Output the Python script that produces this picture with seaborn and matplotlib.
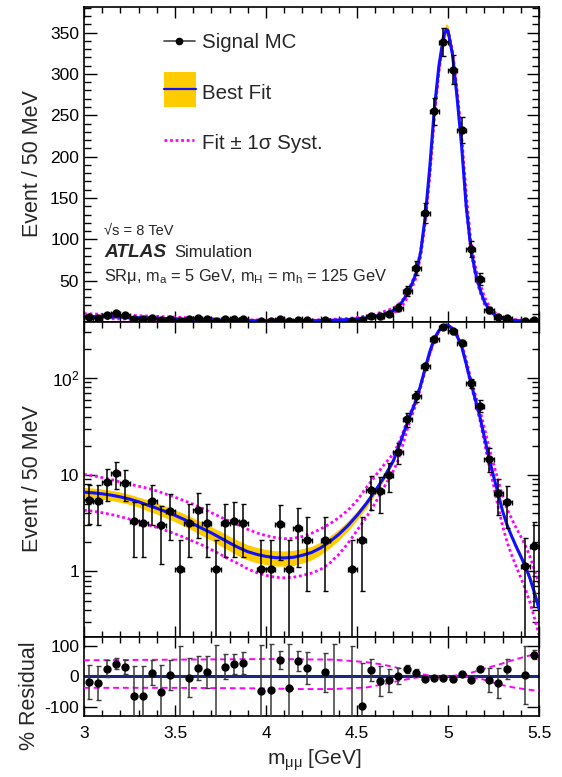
import numpy as np
import pandas as pd
import matplotlib
matplotlib.use('Agg')
import matplotlib.pyplot as plt
import matplotlib.ticker as mticker
from matplotlib.patches import Rectangle
import seaborn as sns

sns.set_theme(style="ticks")
plt.rcParams['font.family'] = ['Liberation Sans', 'DejaVu Sans']
plt.rcParams['mathtext.fontset'] = 'custom'
plt.rcParams['mathtext.rm'] = 'Liberation Sans'
plt.rcParams['mathtext.it'] = 'Liberation Sans:italic'
plt.rcParams['axes.unicode_minus'] = False

# Signal MC histogram, 50 MeV bins from 3 to 5.5 GeV
bin_centers = [3.025 + 0.05 * i for i in range(50)]
counts = [5.5, 5.4, 8.4, 10.4, 8.3, 3.3, 3.2, 5.4, 3.0, 4.2,
          1.07, 3.2, 4.3, 3.2, 1.07, 3.2, 3.3, 3.2, np.nan, 1.07,
          1.05, 3.1, 1.05, 2.8, 2.13, np.nan, 2.13, np.nan, np.nan, 1.05,
          2.13, 7.0, 6.75, 10.0, 17.2, 37.6, 65, 132, 255, 339,
          305, 232, 88, 52, 14.7, 6.4, 5.2, np.nan, 1.13, 1.83]
count_err = [2.4, 2.4, 3.0, 3.3, 3.0, 1.9, 1.8, 2.4, 1.8, 2.1,
             1.05, 1.8, 2.1, 1.8, 1.05, 1.8, 1.9, 1.8, np.nan, 1.05,
             1.05, 1.8, 1.05, 1.7, 1.5, np.nan, 1.5, np.nan, np.nan, 1.05,
             1.5, 2.7, 2.7, 3.3, 4.2, 6.3, 8.3, 12, 16.5, 17,
             17.5, 15.5, 9.5, 7.3, 4.0, 2.6, 2.4, np.nan, 1.1, 1.4]

# residual (%) per bin
resid = [-20, -22, 25, 41, 30, -66, -66, 11, -51, 3,
         -240, -5, 27, 13, -160, 31, 40, 43, np.nan, -49,
         -46, 54, -38, 49, 27, np.nan, 13, -300, np.nan, -260,
         -98, 20, -16, -13, 0, 24, 11, -8, -5, -7,
         -9, 8, -11, 25, -13, -22, 24, np.nan, 5, 70]
resid_err = [55, 55, 27, 19, 24, 99, 99, 41, 89, 49,
             340, 63, 38, 52, 262, 40, 34, 35, np.nan, 150,
             150, 29, 142, 33, 52, np.nan, 64, 405, np.nan, 360,
             142, 35, 48, 38, 26, 12, 11, 5, 4, 3,
             4, 5, 8, 9, 40, 49, 33, np.nan, 95, 15]

# best fit curve and systematic variations
fit_x = [3.00, 3.05, 3.10, 3.15, 3.20, 3.25, 3.30, 3.35, 3.40, 3.45,
         3.50, 3.55, 3.60, 3.65, 3.70, 3.75, 3.80, 3.85, 3.90, 3.95,
         4.00, 4.05, 4.10, 4.15, 4.20, 4.25, 4.30, 4.35, 4.40, 4.45,
         4.50, 4.55, 4.60, 4.65, 4.70, 4.725, 4.75, 4.775, 4.80, 4.825,
         4.85, 4.875, 4.90, 4.925, 4.95, 4.975, 4.99, 5.00, 5.025, 5.05,
         5.075, 5.10, 5.125, 5.15, 5.175, 5.20, 5.225, 5.25, 5.275, 5.30,
         5.325, 5.35, 5.375, 5.40, 5.425, 5.45, 5.475, 5.50]
fit_y = [6.6, 6.5, 6.35, 6.15, 5.9, 5.6, 5.25, 4.85, 4.5, 4.15,
         3.8, 3.45, 3.1, 2.78, 2.5, 2.22, 1.97, 1.76, 1.6, 1.5,
         1.43, 1.39, 1.38, 1.4, 1.47, 1.57, 1.75, 2.03, 2.42, 2.98,
         3.8, 5.0, 6.8, 9.5, 14.0, 18.5, 25, 34, 45, 59,
         85, 128, 188, 258, 310, 345, 354, 352, 323, 271,
         212, 140, 90, 60, 40, 24.5, 15, 9.7, 6.4, 4.2,
         3.0, 2.3, 1.8, 1.43, 1.13, 0.85, 0.6, 0.41]
band_pct = [0.12, 0.12, 0.12, 0.12, 0.12, 0.12, 0.12, 0.13, 0.13, 0.14,
            0.14, 0.15, 0.15, 0.16, 0.16, 0.17, 0.17, 0.18, 0.18, 0.18,
            0.18, 0.18, 0.18, 0.18, 0.17, 0.16, 0.15, 0.14, 0.13, 0.12,
            0.11, 0.10, 0.08, 0.07, 0.06, 0.05, 0.045, 0.04, 0.035, 0.03,
            0.03, 0.03, 0.03, 0.03, 0.025, 0.02, 0.02, 0.02, 0.025, 0.03,
            0.03, 0.03, 0.03, 0.03, 0.035, 0.04, 0.045, 0.05, 0.055, 0.06,
            0.065, 0.07, 0.08, 0.09, 0.10, 0.11, 0.12, 0.13]
sys_up = [10.1, 9.75, 9.35, 8.9, 8.4, 8.0, 7.6, 7.25, 6.8, 6.3,
          5.85, 5.4, 4.95, 4.5, 4.05, 3.65, 3.3, 3.0, 2.72, 2.5,
          2.35, 2.24, 2.18, 2.2, 2.3, 2.48, 2.75, 3.1, 3.6, 4.3,
          5.4, 7.3, 9.7, 12.8, 16.5, 20.5, 26.5, 36, 47, 61,
          86, 124, 180, 250, 305, 343, 354, 353, 328, 280,
          225, 155, 98, 67, 47, 30.5, 19.4, 12.9, 8.8, 6.0,
          4.4, 3.5, 2.8, 2.3, 1.85, 1.43, 1.03, 0.75]
sys_dn = [4.29, 4.2, 4.05, 3.88, 3.68, 3.48, 3.27, 3.05, 2.85, 2.65,
          2.45, 2.25, 2.05, 1.87, 1.68, 1.5, 1.33, 1.2, 1.06, 0.97,
          0.91, 0.87, 0.86, 0.87, 0.91, 0.96, 1.05, 1.22, 1.5, 1.95,
          2.65, 3.6, 5.1, 7.5, 11, 14, 20, 29, 40, 54,
          80, 120, 178, 248, 303, 342, 352, 351, 324, 275,
          216, 138, 87, 57, 37, 21.6, 12.6, 7.8, 4.7, 2.95,
          2.0, 1.47, 1.12, 0.86, 0.66, 0.48, 0.33, 0.22]

# systematic lines in the residual panel (%)
res_sys_x = [3.0, 3.5, 4.0, 4.19, 4.37, 4.55, 4.64, 4.74, 4.83, 4.92,
             5.01, 5.10, 5.19, 5.28, 5.37, 5.47, 5.5]
res_sys_up = [52, 54, 56, 55, 54, 46, 38, 25, 9, 0, 0, 6, 23, 38, 55, 71, 74]
res_sys_dn = [-38, -38, -40, -42, -42, -37, -27, -14, -4, 0, 0, -2, -10, -27, -38, -46, -47]

data = pd.DataFrame({'m': bin_centers, 'n': counts, 'err': count_err,
                     'res': resid, 'res_err': resid_err})
fit = pd.DataFrame({'m': fit_x, 'y': fit_y, 'pct': band_pct,
                    'up': sys_up, 'dn': sys_dn})
fit['lo'] = fit['y'] * (1 - fit['pct'])
fit['hi'] = fit['y'] * (1 + fit['pct'])
rsys = pd.DataFrame({'m': res_sys_x, 'up': res_sys_up, 'dn': res_sys_dn})

YELLOW = '#ffcc00'
BLUE = '#1010ff'
MAGENTA = '#ff00ff'
NAVY = '#1c2580'
DOT = (0, (1.0, 1.0))

fig = plt.figure(figsize=(5.62, 7.77), dpi=100)
ax1 = fig.add_axes([0.1495, 0.5856, 0.8096, 0.4054])
ax2 = fig.add_axes([0.1495, 0.1802, 0.8096, 0.4054])
ax3 = fig.add_axes([0.1495, 0.0785, 0.8096, 0.1017])

for ax in (ax1, ax2):
    ax.fill_between(fit['m'], fit['lo'], fit['hi'], color=YELLOW, lw=0, zorder=1)
    sns.lineplot(data=fit, x='m', y='up', ax=ax, color=MAGENTA, lw=2.0,
                 linestyle=DOT, sort=False, estimator=None, zorder=2)
    sns.lineplot(data=fit, x='m', y='dn', ax=ax, color=MAGENTA, lw=2.0,
                 linestyle=DOT, sort=False, estimator=None, zorder=2)
    sns.lineplot(data=fit, x='m', y='y', ax=ax, color=BLUE, lw=2.2,
                 sort=False, estimator=None, zorder=3)
    ok = data.dropna(subset=['n'])
    ax.errorbar(ok['m'], ok['n'], yerr=ok['err'], xerr=0.025, fmt='o',
                color='black', ms=5, elinewidth=1.1, capsize=1.8,
                capthick=1.0, zorder=4)

ax2.set_yscale('log')

# residual panel
ax3.axhline(0, color=NAVY, lw=2.2, zorder=2)
sns.lineplot(data=rsys, x='m', y='up', ax=ax3, color=MAGENTA, lw=1.4,
             linestyle=(0, (3, 2)), sort=False, estimator=None, zorder=3)
sns.lineplot(data=rsys, x='m', y='dn', ax=ax3, color=MAGENTA, lw=1.4,
             linestyle=(0, (3, 2)), sort=False, estimator=None, zorder=3)
okr = data.dropna(subset=['res'])
ax3.errorbar(okr['m'], okr['res'], yerr=okr['res_err'], fmt='o',
             color='black', ecolor='#3a3a3a', ms=5, elinewidth=1.1,
             capsize=1.8, capthick=1.0, zorder=4)

# axes ranges and ticks
for ax in (ax1, ax2, ax3):
    ax.set_xlim(3.0, 5.5)
    ax.xaxis.set_major_locator(mticker.MultipleLocator(0.5))
    ax.xaxis.set_minor_locator(mticker.MultipleLocator(0.1))
    ax.tick_params(which='both', direction='in', top=True, right=True,
                   labelsize=12.5, width=1.0, colors='black')
    ax.tick_params(which='major', axis='y', length=9)
    ax.tick_params(which='minor', axis='y', length=5)
    ax.tick_params(which='major', axis='x', length=8)
    ax.tick_params(which='minor', axis='x', length=4)
    ax.set_xlabel('')
    ax.set_ylabel('')
    for s in ax.spines.values():
        s.set_linewidth(1.2)
        s.set_color('black')
    ax.set_facecolor('white')

ax1.set_ylim(0, 381)
ax1.set_yticks([50, 100, 150, 200, 250, 300, 350])
ax1.yaxis.set_minor_locator(mticker.MultipleLocator(10))
ax1.tick_params(labelbottom=False)

ax2.set_ylim(0.21, 380)
ax2.set_yticks([1, 10, 100])
ax2.set_yticklabels(['1', '10', '10$^{2}$'])
ax2.yaxis.set_minor_locator(mticker.LogLocator(base=10, subs=np.arange(2, 10)))
ax2.yaxis.set_minor_formatter(mticker.NullFormatter())
ax2.tick_params(labelbottom=False)

ax3.set_ylim(-130, 128)
ax3.set_yticks([-100, 0, 100])
ax3.yaxis.set_minor_locator(mticker.NullLocator())
ax3.xaxis.set_major_formatter(mticker.FuncFormatter(lambda v, p: f'{v:g}'))
ax3.tick_params(axis='x', pad=7)

# axis titles
fig.text(0.057, 0.79, 'Event / 50 MeV', rotation=90, ha='center', va='center', fontsize=15.5)
fig.text(0.057, 0.384, 'Event / 50 MeV', rotation=90, ha='center', va='center', fontsize=15.5)
fig.text(0.052, 0.105, '% Residual', rotation=90, ha='center', va='center', fontsize=15.5)
fig.text(0.56, 0.021, 'm$_{\\mathrm{μμ}}$ [GeV]', ha='center', va='center', fontsize=15)

# legend drawn in the ROOT style
tr = ax1.transAxes
def ax_x(px):
    return (px - 84) / 455.0
def ax_y(py):
    return (322 - py) / 315.0

ax1.plot([ax_x(164), ax_x(195)], [ax_y(41), ax_y(41)], color='#444444', lw=1.2, transform=tr)
ax1.plot([ax_x(179)], [ax_y(41)], 'o', color='black', ms=4.5, transform=tr)
ax1.text(ax_x(202), ax_y(43), 'Signal MC', transform=tr, fontsize=14.8, va='center')

ax1.add_patch(Rectangle((ax_x(164), ax_y(107)), 32 / 455.0, 35 / 315.0,
                        color=YELLOW, transform=tr, lw=0))
ax1.plot([ax_x(164), ax_x(196)], [ax_y(89), ax_y(89)], color=BLUE, lw=1.6, transform=tr)
ax1.text(ax_x(202), ax_y(94), 'Best Fit', transform=tr, fontsize=14.8, va='center')

ax1.plot([ax_x(164), ax_x(194)], [ax_y(140), ax_y(140)], color=MAGENTA, lw=2.0,
         linestyle=DOT, transform=tr)
ax1.text(ax_x(202), ax_y(144), 'Fit ± 1σ Syst.', transform=tr, fontsize=14.8, va='center')

ax1.text(ax_x(104), ax_y(231), '√s = 8 TeV', transform=tr, fontsize=10.5, va='center')
ax1.text(ax_x(104), ax_y(253), 'ATLAS', transform=tr, fontsize=13.8, va='center',
         fontweight='bold', fontstyle='italic')
ax1.text(ax_x(174), ax_y(253), 'Simulation', transform=tr, fontsize=12, va='center')
ax1.text(ax_x(104), ax_y(277),
         'SRμ, m$_{\\mathrm{a}}$ = 5 GeV, m$_{\\mathrm{H}}$ = m$_{\\mathrm{h}}$ = 125 GeV',
         transform=tr, fontsize=11.8, va='center')

fig.savefig('out.png', dpi=100, facecolor='white')
